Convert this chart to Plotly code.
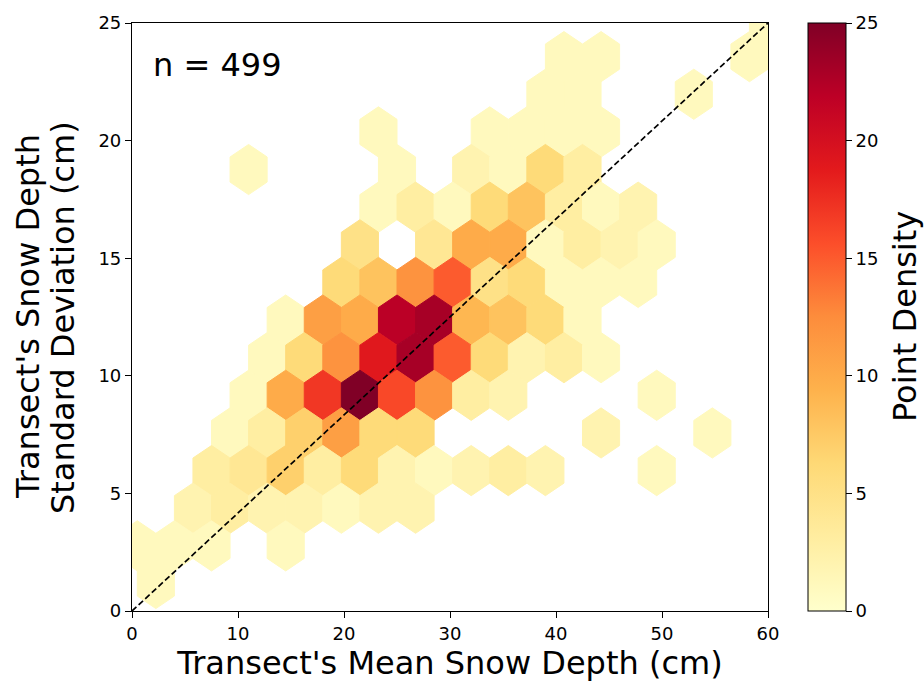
import numpy as np
import plotly.graph_objects as go
from plotly.colors import sample_colorscale

# ---- data (hexbin cell centres and counts) ----
hex_x = [40.75, 44.25, 58.25, 60.0,
         39.0, 42.5, 53.0,
         23.25, 33.75, 37.25, 40.75, 44.25,
         11.0, 25.0, 32.0, 35.5, 39.0, 42.5,
         23.25, 26.75, 30.25, 33.75, 37.25, 40.75, 44.25, 47.75,
         21.5, 28.5, 32.0, 35.5, 39.0, 42.5, 46.0, 49.5,
         19.75, 23.25, 26.75, 30.25, 33.75, 37.25, 40.75, 44.25, 47.75,
         14.5, 18.0, 21.5, 25.0, 28.5, 32.0, 35.5, 39.0, 42.5,
         12.75, 16.25, 19.75, 23.25, 26.75, 30.25, 33.75, 37.25, 40.75, 44.25,
         11.0, 14.5, 18.0, 21.5, 25.0, 28.5, 32.0, 35.5, 49.5,
         9.25, 12.75, 16.25, 19.75, 23.25, 26.75, 44.25, 54.75,
         7.5, 11.0, 14.5, 18.0, 21.5, 25.0, 28.5, 32.0, 35.5, 39.0, 49.5,
         5.75, 9.25, 12.75, 16.25, 19.75, 23.25, 26.75,
         0.5, 4.0, 7.5, 14.5,
         2.25]
hex_y = [23.57, 23.57, 23.57, 25.17,
         21.97, 21.97, 21.97,
         20.37, 20.37, 20.37, 20.37, 20.37,
         18.77, 18.77, 18.77, 18.77, 18.77, 18.77,
         17.17, 17.17, 17.17, 17.17, 17.17, 17.17, 17.17, 17.17,
         15.57, 15.57, 15.57, 15.57, 15.57, 15.57, 15.57, 15.57,
         13.97, 13.97, 13.97, 13.97, 13.97, 13.97, 13.97, 13.97, 13.97,
         12.37, 12.37, 12.37, 12.37, 12.37, 12.37, 12.37, 12.37, 12.37,
         10.77, 10.77, 10.77, 10.77, 10.77, 10.77, 10.77, 10.77, 10.77, 10.77,
         9.17, 9.17, 9.17, 9.17, 9.17, 9.17, 9.17, 9.17, 9.17,
         7.57, 7.57, 7.57, 7.57, 7.57, 7.57, 7.57, 7.57,
         5.97, 5.97, 5.97, 5.97, 5.97, 5.97, 5.97, 5.97, 5.97, 5.97, 5.97,
         4.37, 4.37, 4.37, 4.37, 4.37, 4.37, 4.37,
         2.77, 2.77, 2.77, 2.77,
         1.17]
hex_count = [1, 1, 1, 1,
             1, 1, 1,
             1, 1, 1, 1, 1,
             1, 1, 2, 1, 6, 3,
             1, 3, 1, 6, 8, 3, 1, 2,
             5, 4, 10, 10, 1, 3, 2, 1,
             6, 8, 12, 15, 5, 6, 1, 1, 1,
             1, 11, 10, 22, 23, 9, 8, 6, 1,
             1, 6, 12, 19, 23, 15, 6, 2, 3, 1,
             1, 10, 17, 25, 16, 12, 3, 2, 1,
             1, 3, 7, 11, 6, 6, 2, 1,
             3, 4, 7, 3, 6, 2, 1, 2, 3, 2, 1,
             2, 3, 2, 2, 1, 2, 2,
             1, 1, 1, 1,
             1]

n_points = 499
x_ticks = [0, 10, 20, 30, 40, 50, 60]
y_ticks = [0, 5, 10, 15, 20, 25]
cbar_ticks = [0, 5, 10, 15, 20, 25]
cmin, cmax = 0, 25
x_title = "Transect's Mean Snow Depth (cm)"
y_title_lines = ["Transect's Snow Depth", "Standard Deviation (cm)"]
cbar_title = "Point Density"

# hexagon size (data units)
SX, SY = 3.5, 3.2
hx = SX * np.array([0.5, 0.5, 0.0, -0.5, -0.5, 0.0, 0.5])
hy = SY / 3 * np.array([-0.5, 0.5, 1.0, 0.5, -0.5, -1.0, -0.5])

FONT = "DejaVu Sans"
BIG = 32
TICK = 18
fig = go.Figure()

for x0, y0, c in zip(hex_x, hex_y, hex_count):
    col = sample_colorscale("YlOrRd", [(c - cmin) / (cmax - cmin)])[0]
    fig.add_trace(go.Scatter(
        x=x0 + hx, y=y0 + hy, mode="lines", fill="toself",
        fillcolor=col, line=dict(color=col, width=1),
        hoverinfo="skip", showlegend=False))

# reference line across the axes
fig.add_trace(go.Scatter(
    x=[x_ticks[0], x_ticks[-1]], y=[y_ticks[0], y_ticks[-1]], mode="lines",
    line=dict(color="black", width=1.7, dash="6px,3px"),
    hoverinfo="skip", showlegend=False))

# colour bar holder
fig.add_trace(go.Scatter(
    x=[None], y=[None], mode="markers", showlegend=False, hoverinfo="skip",
    marker=dict(color=[cmin], colorscale="YlOrRd", cmin=cmin, cmax=cmax,
                showscale=True,
                colorbar=dict(
                    x=1.063, xanchor="left", xpad=0, y=0.5, yanchor="middle",
                    ypad=0, len=1, lenmode="fraction", thickness=38,
                    outlinecolor="black", outlinewidth=1,
                    ticks="outside", ticklen=6, tickwidth=1.2, tickcolor="black",
                    tickvals=cbar_ticks, tickfont=dict(family=FONT, size=TICK, color="black")))))

fig.add_annotation(x=1.8, y=23.2, xref="x", yref="y", text=f"n = {n_points}",
                   showarrow=False, xanchor="left", yanchor="middle",
                   font=dict(family=FONT, size=BIG, color="black"))

# y-axis title (two lines) and colour-bar title as rotated text
for xp, line in zip([-0.1635, -0.1085], y_title_lines):
    fig.add_annotation(x=xp, y=0.5, xref="paper", yref="paper", text=line,
                       showarrow=False, textangle=-90, xanchor="center", yanchor="middle",
                       font=dict(family=FONT, size=BIG, color="black"))
fig.add_annotation(x=1.2155, y=0.5, xref="paper", yref="paper", text=cbar_title,
                   showarrow=False, textangle=-90, xanchor="center", yanchor="middle",
                   font=dict(family=FONT, size=BIG, color="black"))

axis_common = dict(showgrid=False, zeroline=False, showline=True, linecolor="black",
                   linewidth=1.2, mirror=True, ticks="outside", ticklen=6, tickwidth=1.2,
                   tickcolor="black", tickfont=dict(family=FONT, size=TICK, color="black"))

fig.update_xaxes(range=[0, 60], tickvals=x_ticks,
                 title=dict(text=x_title, standoff=8,
                            font=dict(family=FONT, size=BIG, color="black")),
                 **axis_common)
fig.update_yaxes(range=[0, 25], tickvals=y_ticks, **axis_common)

fig.update_layout(width=924, height=692, margin=dict(l=132, r=156, t=18, b=81),
                  paper_bgcolor="white", plot_bgcolor="white",
                  font=dict(family=FONT, color="black"))

fig.write_html("out.html")
